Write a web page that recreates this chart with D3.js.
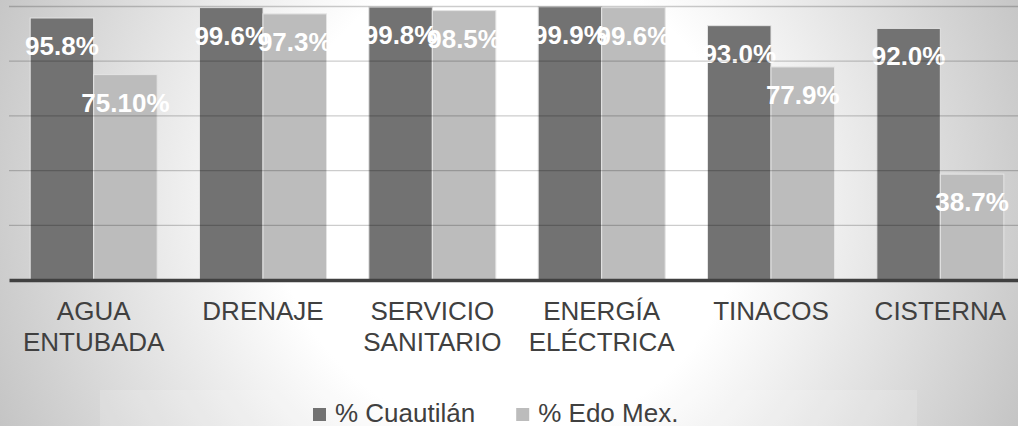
<!DOCTYPE html>
<html>
<head>
<meta charset="utf-8">
<script src="https://cdn.jsdelivr.net/npm/d3@7"></script>
<style>
  body { margin: 0; }
  svg { display: block; font-family: "Liberation Sans", Arial, sans-serif; }
</style>
</head>
<body>
<svg id="chart" width="1018" height="430"></svg>
<script>
// data
const categories = ["AGUA\nENTUBADA", "DRENAJE", "SERVICIO\nSANITARIO", "ENERGÍA\nELÉCTRICA", "TINACOS", "CISTERNA"]
const series = ["% Cuautilán", "% Edo Mex."]
const cuautilan = [95.8, 99.6, 99.8, 99.9, 93.0, 92.0]
const edoMex = [75.1, 97.3, 98.5, 99.6, 77.9, 38.7]
const cuautilanLabels = ["95.8%", "99.6%", "99.8%", "99.9%", "93.0%", "92.0%"]
const edoMexLabels = ["75.10%", "97.3%", "98.5%", "99.6%", "77.9%", "38.7%"]
const yTicks = [20, 40, 60, 80, 100]
const colors = ["#727272", "#bcbcbc"]

let svg = d3.select("#chart"),
    width = 1018,
    height = 430

// background: soft radial gray
let defs = svg.append("defs")
let grad = defs.append("radialGradient").attr("id", "bg")
    .attr("gradientUnits", "userSpaceOnUse")
    .attr("cx", 509).attr("cy", 200).attr("r", 560)
grad.append("stop").attr("offset", "0").attr("stop-color", "#ffffff")
grad.append("stop").attr("offset", "0.42").attr("stop-color", "#ffffff")
grad.append("stop").attr("offset", "1").attr("stop-color", "#c4c4c4")
svg.append("rect").attr("width", width).attr("height", height).attr("fill", "url(#bg)")
svg.append("rect").attr("x", 100).attr("y", 390).attr("width", 817).attr("height", 36)
    .attr("fill", "#ffffff").attr("opacity", 0.15)
svg.append("rect").attr("x", 0).attr("y", 426).attr("width", width).attr("height", 4).attr("fill", "#ffffff")

let rows = categories.map((c, i) => ({
    cat: c,
    values: [
        {s: series[0], v: cuautilan[i], label: cuautilanLabels[i]},
        {s: series[1], v: edoMex[i], label: edoMexLabels[i]}
    ]
}))

let x0 = d3.scaleBand().domain(categories).range([9, 1025])
let x1 = d3.scaleBand().domain(series).range([0, x0.bandwidth()]).paddingInner(0).paddingOuter(1/3)
let y = d3.scaleLinear().domain([0, 100]).range([280, 6.5])
let color = d3.scaleOrdinal().domain(series).range(colors)

// bars
let groups = svg.append("g").selectAll("g").data(rows).enter().append("g")
    .attr("transform", d => "translate(" + x0(d.cat) + ",0)")
groups.selectAll("rect").data(d => d.values).enter().append("rect")
    .attr("x", d => x1(d.s))
    .attr("y", d => y(d.v))
    .attr("width", x1.bandwidth())
    .attr("height", d => y(0) - y(d.v))
    .attr("fill", d => color(d.s))
    .attr("stroke", "#e4e4e4")
    .attr("stroke-width", 1)

// gridlines drawn over the bars, translucent
svg.append("g").selectAll("line").data(yTicks).enter().append("line")
    .attr("x1", 9).attr("x2", width)
    .attr("y1", d => y(d)).attr("y2", d => y(d))
    .attr("stroke", "rgba(0,0,0,0.2)")
    .attr("stroke-width", 1.3)

// value labels
groups.selectAll("text").data(d => d.values).enter().append("text")
    .attr("x", d => x1(d.s) + x1.bandwidth() / 2)
    .attr("y", d => y(d.v) + 37)
    .attr("text-anchor", "middle")
    .attr("fill", "#ffffff")
    .attr("font-weight", "bold")
    .attr("font-size", 26)
    .text(d => d.label)

// x axis with wrapped category names
let xaxis = svg.append("g").attr("transform", "translate(0," + y(0) + ")")
    .call(d3.axisBottom(x0).tickSize(0).tickSizeOuter(0))
xaxis.select(".domain").attr("stroke", "#404040").attr("stroke-width", 3.5)
xaxis.selectAll(".tick text").each(function(d){
    let t = d3.select(this).text("").attr("y", 0).attr("dy", null)
        .attr("fill", "#404040").attr("font-size", 26)
        .attr("font-family", "'Liberation Sans', Arial, sans-serif")
    d.split("\n").forEach((line, k) => {
        t.append("tspan").attr("x", 0).attr("y", 40 + k * 31).text(line)
    })
})

// legend
let legend = svg.append("g").attr("transform", "translate(313,0)")
let lx = 0
series.forEach((s, i) => {
    let item = legend.append("g").attr("transform", "translate(" + lx + ",0)")
    item.append("rect").attr("x", 0).attr("y", 408).attr("width", 13).attr("height", 13)
        .attr("fill", color(s))
    let txt = item.append("text").attr("x", 22).attr("y", 422)
        .attr("fill", "#404040").attr("font-size", 26).text(s)
    lx += 22 + txt.node().getComputedTextLength() + 41
})
</script>
</body>
</html>
